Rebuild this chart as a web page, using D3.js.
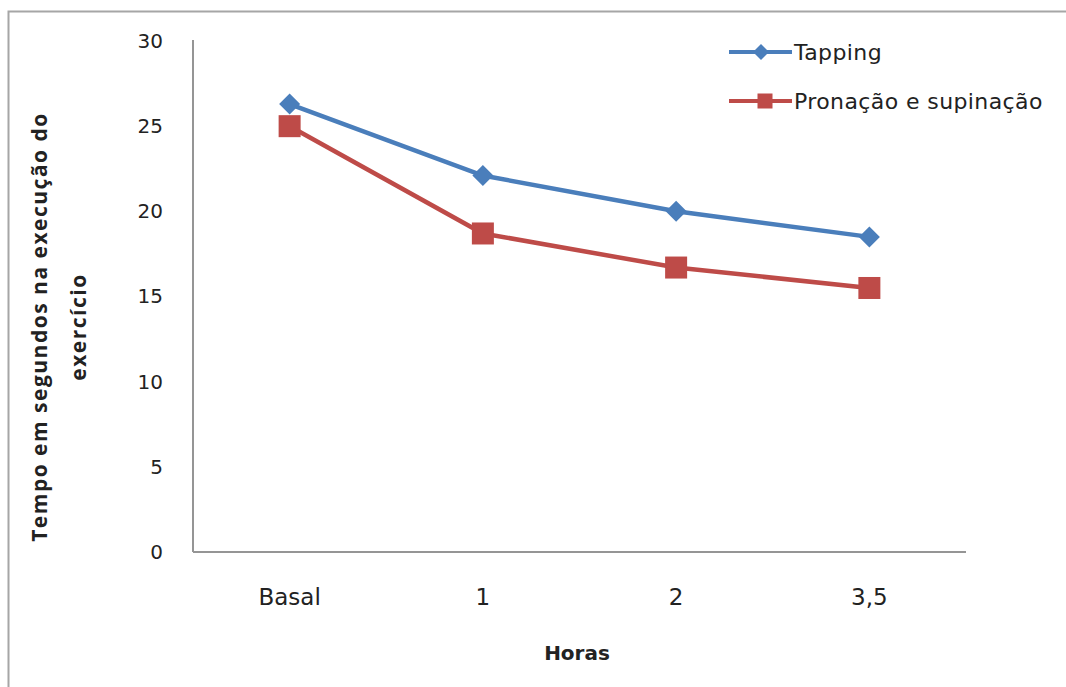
<!DOCTYPE html>
<html>
<head>
<meta charset="utf-8">
<script src="https://cdn.jsdelivr.net/npm/d3@7"></script>
<style>
  html, body { margin: 0; padding: 0; background: #ffffff; }
  svg { display: block; }
</style>
</head>
<body>
<svg id="chart" width="1066" height="687"></svg>
<script>
// Time (s) to perform the exercise at each measurement hour
const categories = ["Basal", "1", "2", "3,5"];
const tappingValues = [26.3, 22.1, 20.0, 18.5];
const pronacaoValues = [25.0, 18.7, 16.7, 15.5];
const yTicks = [0, 5, 10, 15, 20, 25, 30];
const seriesNames = ["Tapping", "Pronação e supinação"];

const svg = d3.select("#chart");
const W = 1066, H = 687;
const plot = { left: 193, right: 966, top: 41, bottom: 552 };

const blue = "#4a7ebb";
const red = "#be4b48";
const tickFont = "'DejaVu Sans', Verdana, sans-serif";

// frame around the chart area (only top and left edges fall inside the canvas)
svg.append("path")
  .attr("d", `M8.5,${H} V11.5 H${W}`)
  .attr("fill", "none")
  .attr("stroke", "#a6a6a6")
  .attr("stroke-width", 2);

const x = d3.scaleBand().domain(categories).range([plot.left, plot.right]);
const y = d3.scaleLinear().domain([0, 30]).range([plot.bottom, plot.top]);
const cx = d => x(d) + x.bandwidth() / 2;

// axes
const yAxis = d3.axisLeft(y).tickValues(yTicks).tickSize(0).tickPadding(30);
const gy = svg.append("g").attr("transform", `translate(${plot.left},0)`).call(yAxis);
gy.select(".domain").attr("stroke", "#959595").attr("stroke-width", 2)
  .attr("d", `M0,${plot.bottom}V${plot.top - 1}`);
gy.selectAll("text").attr("font-family", tickFont).attr("font-size", 20).attr("fill", "#222");

const xAxis = d3.axisBottom(x).tickSize(0).tickPadding(37);
const gx = svg.append("g").attr("transform", `translate(0,${plot.bottom})`).call(xAxis);
gx.select(".domain").attr("stroke", "#959595").attr("stroke-width", 2)
  .attr("d", `M${plot.left},0H${plot.right}`);
gx.selectAll("text").attr("font-family", tickFont).attr("font-size", 23).attr("fill", "#222");

// axis titles
svg.append("text")
  .attr("x", 577).attr("y", 660)
  .attr("text-anchor", "middle")
  .attr("font-family", tickFont).attr("font-weight", "bold")
  .attr("font-size", 20).attr("fill", "#222")
  .text("Horas");

const yTitle = svg.append("text")
  .attr("transform", "translate(0,327) rotate(-90)")
  .attr("text-anchor", "middle")
  .attr("font-family", "'Open Sans', 'DejaVu Sans', sans-serif").attr("font-weight", "bold")
  .attr("font-size", 21).attr("letter-spacing", 1.5).attr("fill", "#222");
yTitle.append("tspan").attr("x", 0).attr("y", 47).text("Tempo em segundos  na execução do");
yTitle.append("tspan").attr("x", 0).attr("y", 86).text("exercício");

// series
const line = d3.line().x((d, i) => cx(categories[i])).y(d => y(d));

function diamond(g, px, py, r) {
  g.append("path")
    .attr("d", `M${px},${py - r}L${px + r},${py}L${px},${py + r}L${px - r},${py}Z`)
    .attr("fill", blue);
}
function square(g, px, py, s) {
  g.append("rect")
    .attr("x", px - s / 2).attr("y", py - s / 2)
    .attr("width", s).attr("height", s)
    .attr("fill", red);
}

const gT = svg.append("g");
gT.append("path").datum(tappingValues).attr("d", line)
  .attr("fill", "none").attr("stroke", blue).attr("stroke-width", 4.5);
tappingValues.forEach((v, i) => diamond(gT, cx(categories[i]), y(v), 10.5));

const gP = svg.append("g");
gP.append("path").datum(pronacaoValues).attr("d", line)
  .attr("fill", "none").attr("stroke", red).attr("stroke-width", 4.5);
pronacaoValues.forEach((v, i) => square(gP, cx(categories[i]), y(v), 22));

// legend
const legendFont = "'DejaVu Sans', Verdana, sans-serif";
const legend = svg.append("g");
const lg1 = 52, lg2 = 101;
legend.append("line").attr("x1", 729).attr("x2", 792).attr("y1", lg1).attr("y2", lg1)
  .attr("stroke", blue).attr("stroke-width", 4);
diamond(legend, 761, lg1, 8);
legend.append("text").attr("x", 794).attr("y", lg1).attr("dy", "0.36em")
  .attr("font-family", legendFont).attr("font-size", 22).attr("letter-spacing", 0.4).attr("fill", "#222")
  .text(seriesNames[0]);

legend.append("line").attr("x1", 729).attr("x2", 792).attr("y1", lg2).attr("y2", lg2)
  .attr("stroke", red).attr("stroke-width", 4);
square(legend, 765, lg2, 15);
legend.append("text").attr("x", 794).attr("y", lg2).attr("dy", "0.36em")
  .attr("font-family", legendFont).attr("font-size", 22).attr("letter-spacing", 0.4).attr("fill", "#222")
  .text(seriesNames[1]);
</script>
</body>
</html>
